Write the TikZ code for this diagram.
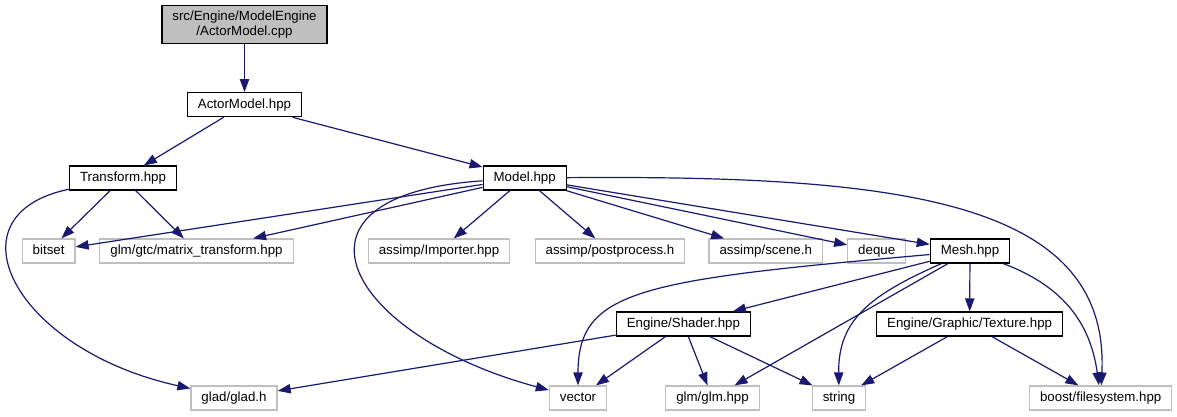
\documentclass[tikz,border=0pt]{standalone}
\usepackage{fontspec}
\setmainfont{Liberation Sans}
\usetikzlibrary{arrows.meta}
\definecolor{bleunuit}{RGB}{25,25,112}
\definecolor{grisc}{RGB}{191,191,191}
\newcommand{\dox}{\fontsize{13.3}{15}\selectfont}

\begin{document}
\begin{tikzpicture}[x=1pt, y=-1pt,
  fic/.style={rectangle, draw=#1, line width=1.2pt, minimum height=24pt, inner xsep=10.5pt, inner ysep=0pt,
              text height=9.7pt, text depth=2.8pt, font=\dox},
  fic/.default=grisc,
  inc/.style={-{Triangle[length=13pt,width=9.3pt]}, draw=bleunuit, line width=1.2pt}]

\useasboundingbox (0,0) rectangle (1177,416);

% fichiers
\node[draw=black, fill=grisc, line width=1.2pt, align=center, minimum height=38pt, inner xsep=10.5pt, inner ysep=0pt,
      font=\dox] (cpp) at (244.5,24.5) {src/Engine/ModelEngine\\/ActorModel.cpp};
\node[fic=black] (actor) at (244.5,104.7) {ActorModel.hpp};
\node[fic=black] (transf) at (123,178) {Transform.hpp};
\node[fic=black] (model) at (524.7,178) {Model.hpp};
\node[fic] (bitset) at (48.6,251) {bitset};
\node[fic] (matrix) at (196.5,251) {glm/gtc/matrix\_transform.hpp};
\node[fic] (importer) at (439,251) {assimp/Importer.hpp};
\node[fic] (postproc) at (610,251) {assimp/postprocess.h};
\node[fic] (scene) at (765.7,251) {assimp/scene.h};
\node[fic] (deque) at (876.7,251) {deque};
\node[fic=black] (mesh) at (970,251) {Mesh.hpp};
\node[fic=black] (shader) at (683.4,324) {Engine/Shader.hpp};
\node[fic=black] (texture) at (969.6,324) {Engine/Graphic/Texture.hpp};
\node[fic] (glad) at (234,398) {glad/glad.h};
\node[fic] (vector) at (578,398) {vector};
\node[fic] (glm) at (712.5,398) {glm/glm.hpp};
\node[fic] (string) at (839,398) {string};
\node[fic] (boost) at (1100.7,398) {boost/filesystem.hpp};

% inclusions
\draw[inc] (cpp) -- (actor);
\draw[inc] (actor) -- (transf);
\draw[inc] (actor) -- (model);
\draw[inc] (transf) -- (bitset);
\draw[inc] (transf) -- (matrix);
\draw[inc] (transf) .. controls (-55,215) and (15,350) .. (glad);
\draw[inc] (model) -- (bitset);
\draw[inc] (model) -- (matrix);
\draw[inc] (model) .. controls (270,195) and (345,335) .. (vector);
\draw[inc] (model) -- (importer);
\draw[inc] (model) -- (postproc);
\draw[inc] (model) -- (scene);
\draw[inc] (model) -- (deque);
\draw[inc] (model) -- (mesh);
\draw[inc] (model) .. controls (900,175) and (1110,200) .. (boost);
\draw[inc] (mesh) .. controls (640,280) and (578,290) .. (vector);
\draw[inc] (mesh) -- (shader);
\draw[inc] (mesh) -- (glm);
\draw[inc] (mesh) .. controls (870,295) and (838,320) .. (string);
\draw[inc] (mesh) -- (texture);
\draw[inc] (mesh) .. controls (1060,285) and (1090,320) .. (boost);
\draw[inc] (shader) -- (glad);
\draw[inc] (shader) -- (vector);
\draw[inc] (shader) -- (glm);
\draw[inc] (shader) -- (string);
\draw[inc] (texture) -- (string);
\draw[inc] (texture) -- (boost);

\end{tikzpicture}
\end{document}
